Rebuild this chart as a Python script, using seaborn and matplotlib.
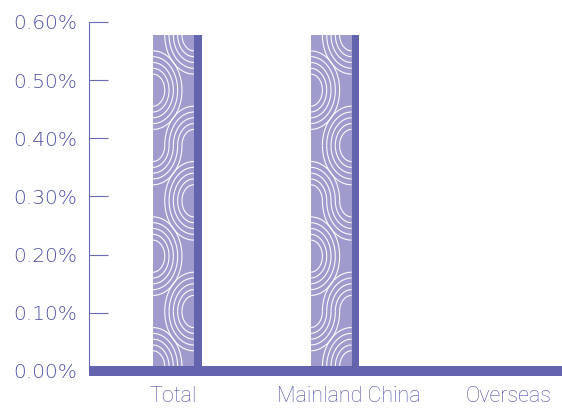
import numpy as np
import matplotlib.pyplot as plt
import matplotlib.ticker as mticker
import matplotlib.transforms as mtransforms
from matplotlib.collections import LineCollection
import seaborn as sns

# ── Data ─────────────────────────────────────────────────────────────────────
categories = ["Total", "Mainland China", "Overseas"]
share_pct = [0.578, 0.578, 0.0]          # percent
y_ticks = [0.0, 0.1, 0.2, 0.3, 0.4, 0.5, 0.6]

# ── Style ────────────────────────────────────────────────────────────────────
sns.set_style("white")
plt.rcParams["font.family"] = ["DejaVu Sans"]

LIGHT = "#9f9bcd"
DARK = "#6463ae"
TEXT = "#4f50a4"
SPINE = "#6b6bb5"

W, H = 562, 409
fig = plt.figure(figsize=(W / 100, H / 100), dpi=100)
ax = fig.add_axes([89 / W, 1 - 371 / H, 1 - 89 / W, (371 - 22) / H])

# shadow bars, then the lighter patterned bars on top
bar_w = 0.26
sns.barplot(x=categories, y=share_pct, color=DARK, width=bar_w,
            saturation=1, ax=ax, zorder=1)
n_dark = len(ax.patches)
sns.barplot(x=categories, y=share_pct, color=LIGHT, width=bar_w,
            saturation=1, ax=ax, zorder=2)
for i, p in enumerate(ax.patches):
    p.set_linewidth(0)
    p.set_x(p.get_x() + (0.0856 if i < n_dark else 0.035))

ax.set_xlim(-0.5, 2.5)
ax.set_ylim(0, 0.6)
ax.set_xlabel("")
ax.set_ylabel("")

# ── wavy line pattern (truchet style arcs) clipped to each light bar ─────────
flips = [[0, 1, 1, 0, 1, 0, 0, 1, 0, 1],
         [0, 1, 0, 0, 1, 1, 0, 1, 1, 0]]
ang = np.linspace(0, np.pi / 2, 40)
light_bars = [p for p in ax.patches[n_dark:] if p.get_height() > 0]
for k, p in enumerate(light_bars):
    (x0, y0), (x1, y1) = ax.transData.transform(
        [(p.get_x(), 0), (p.get_x() + p.get_width(), p.get_height())])
    sx = x1 - x0
    sy = sx * 1.35
    radii = np.array([-2, -1, 0, 1, 2]) * 0.105 + 0.5
    segs = []
    for r in range(int(np.ceil((y1 - y0) / sy)) + 1):
        tx, ty = x0, y1 - (r + 1) * sy
        if flips[k % 2][r % 10] == 0:
            corners = [(tx, ty, 0.0), (tx + sx, ty + sy, np.pi)]
        else:
            corners = [(tx + sx, ty, np.pi / 2), (tx, ty + sy, 1.5 * np.pi)]
        for cx, cy, a0 in corners:
            for rad in radii:
                segs.append(np.column_stack([cx + rad * sx * np.cos(ang + a0),
                                             cy + rad * sy * np.sin(ang + a0)]))
    lc = LineCollection(segs, colors="white", linewidths=0.8, alpha=0.95,
                        transform=mtransforms.IdentityTransform(), zorder=2.5)
    ax.add_collection(lc, autolim=False)
    lc.set_clip_path(p)

# thick baseline
ax.axhline(0, color=DARK, lw=7.2, zorder=4, clip_on=False,
           solid_capstyle="butt")

# ── axes styling ─────────────────────────────────────────────────────────────
for side in ["top", "right", "bottom"]:
    ax.spines[side].set_visible(False)
ax.spines["left"].set_color(SPINE)
ax.spines["left"].set_linewidth(0.8)

ax.set_yticks(y_ticks)
ax.yaxis.set_major_formatter(mticker.FuncFormatter(lambda v, _: f"{v:.2f}%"))
ax.tick_params(axis="y", left=True, direction="in", length=13.7, width=0.8,
               color=SPINE, pad=8.6, labelsize=14.5, labelcolor=TEXT)
ax.tick_params(axis="x", bottom=False, length=0, pad=11, labelsize=15.5,
               labelcolor=TEXT)
for lab in ax.get_yticklabels():
    lab.set_fontweight("light")

label_shift_px = [5, 23, 25]
for lab, dx in zip(ax.get_xticklabels(), label_shift_px):
    lab.set_fontfamily(["Roboto", "DejaVu Sans"])
    lab.set_fontweight("light")
    lab.set_transform(lab.get_transform() +
                      mtransforms.ScaledTranslation(dx / 100, 0, fig.dpi_scale_trans))

ax.grid(False)
fig.savefig("out.png", dpi=100)
